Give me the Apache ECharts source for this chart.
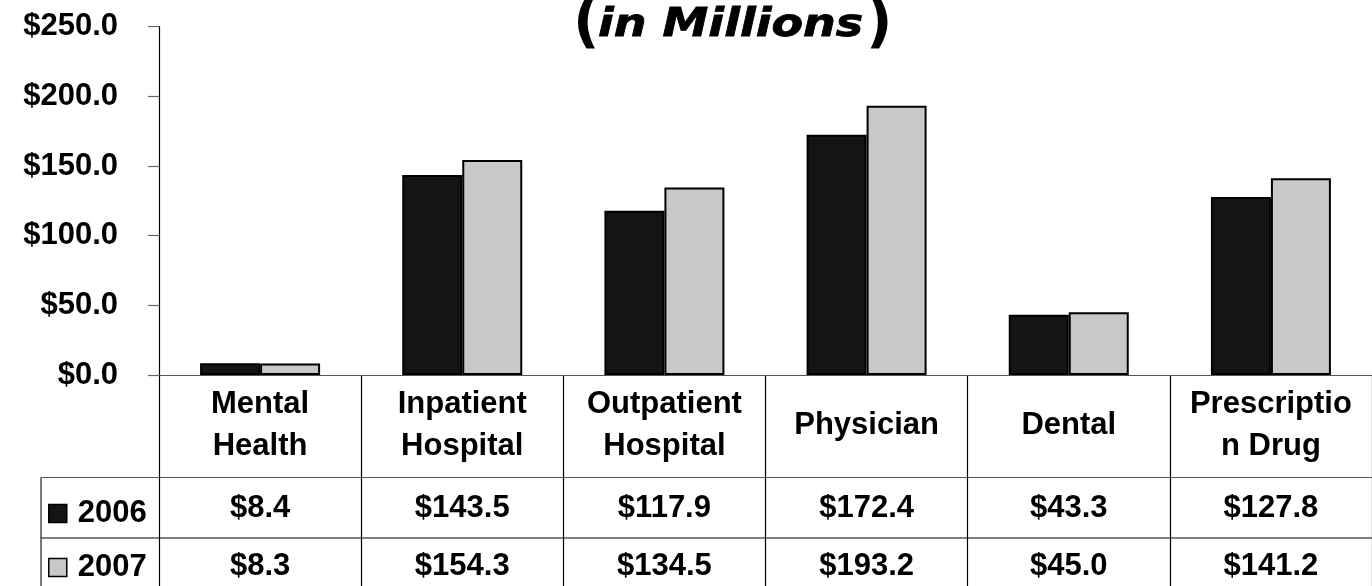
<!DOCTYPE html>
<html>
<head>
<meta charset="utf-8">
<script src="https://cdn.jsdelivr.net/npm/echarts@6/dist/echarts.min.js"></script>
<style>
  html, body { margin: 0; padding: 0; background: #fff; }
  #chart { width: 1372px; height: 586px; }
</style>
</head>
<body>
<div id="chart"></div>
<script>
// Spending by service type, two years
const categories = ['Mental\nHealth', 'Inpatient\nHospital', 'Outpatient\nHospital', 'Physician', 'Dental', 'Prescriptio\nn Drug'];
const seriesNames = ['2006', '2007'];
const values2006 = [8.4, 143.5, 117.9, 172.4, 43.3, 127.8];
const values2007 = [8.3, 154.3, 134.5, 193.2, 45.0, 141.2];
const yMin = 0, yMax = 250, yStep = 50;

const FONT = '"Liberation Sans", Arial, sans-serif';
const money = v => '$' + v.toFixed(1);

const chart = echarts.init(document.getElementById('chart'), null, { renderer: 'canvas' });

const labelBase = { fontFamily: FONT, fontSize: 31, fontWeight: 'bold', color: '#000' };

// Table rows sit below the plot; row rules are drawn as lines
const tableLine = (x1, y1, x2, y2, c) => ({
  type: 'line', silent: true,
  shape: { x1, y1, x2, y2 },
  style: { stroke: c || '#222', lineWidth: 1.2 }
});

// One legend block per table row, so each key sits in its own row
const rowLegend = (name, top) => ({
  orient: 'vertical',
  left: 43,
  top,
  itemWidth: 18,
  itemHeight: 18,
  icon: 'rect',
  data: [name],
  selectedMode: false,
  textStyle: Object.assign({}, labelBase, { padding: [0, 0, 0, 6] }),
  itemStyle: { borderColor: '#000', borderWidth: 1.5 }
});

const titleFont = { fontFamily: '"DejaVu Sans", Verdana, sans-serif', fontWeight: 'bold', fill: '#000', verticalAlign: 'middle' };

chart.setOption({
  animation: false,
  backgroundColor: '#fff',
  graphic: [
    { type: 'text', x: 573, y: 26, style: Object.assign({ text: '(', fontSize: 58 }, titleFont) },
    { type: 'text', x: 598, y: 26, scaleX: 1.18, style: Object.assign({ text: 'in Millions', fontSize: 39, fontStyle: 'italic', stroke: '#000', lineWidth: 0.8 }, titleFont) },
    { type: 'text', x: 866, y: 26, style: Object.assign({ text: ')', fontSize: 58 }, titleFont) },
    tableLine(41, 477.5, 1372, 477.5, '#555'),
    tableLine(41, 538, 1372, 538, '#000'),
    tableLine(41, 477.5, 41, 586, '#222')
  ],
  legend: [rowLegend(seriesNames[0], 493), rowLegend(seriesNames[1], 547)],
  grid: [
    { left: 159, top: 26.7, width: 1220, height: 348.3 },
    { left: 159, top: 375, width: 1220, height: 211 }
  ],
  xAxis: [
    {
      type: 'category', gridIndex: 0, data: categories,
      axisLine: { show: true, lineStyle: { color: '#555', width: 1.2 } },
      axisTick: { show: false },
      axisLabel: Object.assign({}, labelBase, { interval: 0, margin: 50, verticalAlign: 'middle', lineHeight: 42 }),
      splitLine: { show: false }
    },
    {
      type: 'category', gridIndex: 1, data: categories, position: 'top',
      axisLine: { show: false }, axisTick: { show: false },
      axisLabel: Object.assign({}, labelBase, { interval: 0, inside: true, margin: 133, verticalAlign: 'middle',
        formatter: (v, i) => money(values2006[i]) }),
      splitLine: { show: true, interval: 0, lineStyle: { color: '#000', width: 1.2 } }
    },
    {
      type: 'category', gridIndex: 1, data: categories, position: 'bottom',
      axisLine: { show: false }, axisTick: { show: false },
      axisLabel: Object.assign({}, labelBase, { interval: 0, inside: true, margin: 20, verticalAlign: 'middle',
        formatter: (v, i) => money(values2007[i]) }),
      splitLine: { show: false }
    }
  ],
  yAxis: [
    {
      type: 'value', gridIndex: 0, min: yMin, max: yMax, interval: yStep,
      axisLine: { show: true, lineStyle: { color: '#000', width: 1.2 } },
      axisTick: { show: true, length: 11, lineStyle: { color: '#666', width: 1.2 } },
      splitLine: { show: false },
      axisLabel: Object.assign({}, labelBase, { margin: 41, formatter: v => money(v) })
    },
    { type: 'value', gridIndex: 1, show: false }
  ],
  series: [
    {
      name: seriesNames[0], type: 'bar', xAxisIndex: 0, yAxisIndex: 0,
      data: values2006, barWidth: 60, barGap: '0%',
      itemStyle: { color: '#141414', borderColor: '#000', borderWidth: 2 }
    },
    {
      name: seriesNames[1], type: 'bar', xAxisIndex: 0, yAxisIndex: 0,
      data: values2007, barWidth: 60, barGap: '0%',
      itemStyle: { color: '#c8c8c8', borderColor: '#000', borderWidth: 2 }
    }
  ]
});
</script>
</body>
</html>
